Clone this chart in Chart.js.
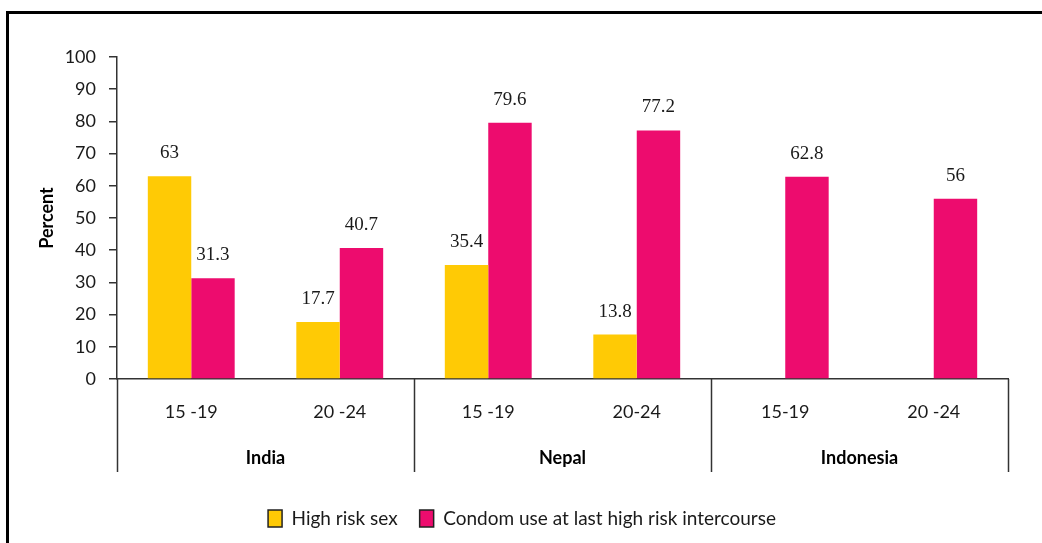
<!DOCTYPE html>
<html>
<head>
<meta charset="utf-8">
<script src="https://cdn.jsdelivr.net/npm/chart.js@4/dist/chart.umd.min.js"></script>
<style>
  html, body { margin: 0; padding: 0; background: #fff; }
  #wrap { position: relative; width: 1042px; height: 543px; overflow: hidden; }
  #frame { position: absolute; left: 6px; top: 11px; width: 1100px; height: 600px;
           border-left: 3px solid #000; border-top: 3px solid #000; }
  canvas { position: absolute; left: 0; top: 0; }
</style>
</head>
<body>
<div id="wrap">
  <div id="frame"></div>
  <canvas id="c" width="1042" height="543"></canvas>
</div>
<script>
const ageGroups = ['15 -19', '20 -24', '15 -19', '20-24', '15-19', '20 -24'];
const countries = ['India', 'Nepal', 'Indonesia'];
const highRiskSex = [63, 17.7, 35.4, 13.8, null, null];
const condomUse = [31.3, 40.7, 79.6, 77.2, 62.8, 56];
const yTicks = [0, 10, 20, 30, 40, 50, 60, 70, 80, 90, 100];

const tickFont = { family: 'Lato', size: 18 };
const boldFont = { family: 'Lato', size: 18, weight: 'bold' };

// value labels above each bar
const valueLabels = {
    id: 'valueLabels',
    afterDatasetsDraw(chart) {
        const ctx = chart.ctx;
        ctx.save();
        ctx.font = '19px "Liberation Serif"';
        ctx.fillStyle = '#1a1a1a';
        ctx.textAlign = 'center';
        ctx.textBaseline = 'middle';
        chart.data.datasets.forEach((ds, i) => {
            chart.getDatasetMeta(i).data.forEach((bar, j) => {
                const v = ds.data[j];
                if (v === null) return;
                ctx.fillText(String(v), bar.x, bar.y - 23);
            });
        });
        ctx.restore();
    }
};

// vertical separators between the country groups
const groupLines = {
    id: 'groupLines',
    afterDraw(chart) {
        const x = chart.scales.x;
        const x2 = chart.scales.x2;
        const ctx = chart.ctx;
        const per = ageGroups.length / countries.length;
        const step = x.getPixelForValue(1) - x.getPixelForValue(0);
        ctx.save();
        ctx.strokeStyle = '#333';
        ctx.lineWidth = 1.5;
        for (let g = 0; g <= countries.length; g++) {
            const px = Math.round(x.getPixelForValue(g * per) - step / 2) + 0.5;
            ctx.beginPath();
            ctx.moveTo(px, chart.chartArea.bottom);
            ctx.lineTo(px, x2.top + 33);
            ctx.stroke();
        }
        ctx.restore();
    }
};

new Chart(document.getElementById('c'), {
    type: 'bar',
    data: {
        labels: ageGroups,
        datasets: [
            { label: 'High risk sex', data: highRiskSex, backgroundColor: '#FFCA05', borderWidth: 0 },
            { label: 'Condom use at last high risk intercourse', data: condomUse, backgroundColor: '#ED0C6E', borderWidth: 0 }
        ]
    },
    options: {
        responsive: false,
        animation: false,
        layout: { padding: { left: 36, right: 34, top: 57, bottom: 5 } },
        datasets: { bar: { categoryPercentage: 0.585, barPercentage: 1 } },
        plugins: {
            legend: {
                position: 'bottom',
                labels: {
                    font: { family: 'Lato', size: 19 }, color: '#1a1a1a', boxWidth: 14, boxHeight: 17,
                    padding: 22,
                    generateLabels(chart) {
                        return chart.data.datasets.map((ds, i) => ({
                            text: ds.label, fillStyle: ds.backgroundColor, strokeStyle: '#222',
                            lineWidth: 1.5, datasetIndex: i, hidden: false, fontColor: '#1a1a1a'
                        }));
                    }
                }
            },
            tooltip: { enabled: false }
        },
        scales: {
            x: {
                grid: { display: true, drawOnChartArea: false, drawTicks: false },
                border: { display: true, color: '#333', width: 1.5 },
                ticks: { font: tickFont, color: '#1a1a1a', padding: 22 },
                afterFit(s) { s.height = 60; }
            },
            x2: {
                type: 'category',
                labels: countries,
                position: 'bottom',
                grid: { display: false },
                border: { display: false },
                ticks: { font: boldFont, color: '#000', padding: 0 },
                afterFit(s) { s.height = 48; }
            },
            y: {
                min: 0, max: 100,
                afterBuildTicks(s) { s.ticks = yTicks.map(v => ({ value: v })); },
                grid: { drawOnChartArea: false, tickLength: 8, color: '#333', lineWidth: 1.5 },
                border: { color: '#333', width: 1.5 },
                ticks: { font: tickFont, color: '#1a1a1a', padding: 13 },
                title: { display: true, text: 'Percent', font: boldFont,
                         color: '#000', padding: { top: 0, bottom: 8 } },
                afterFit(s) { s.width = 81; }
            }
        }
    },
    plugins: [valueLabels, groupLines]
});
</script>
</body>
</html>
